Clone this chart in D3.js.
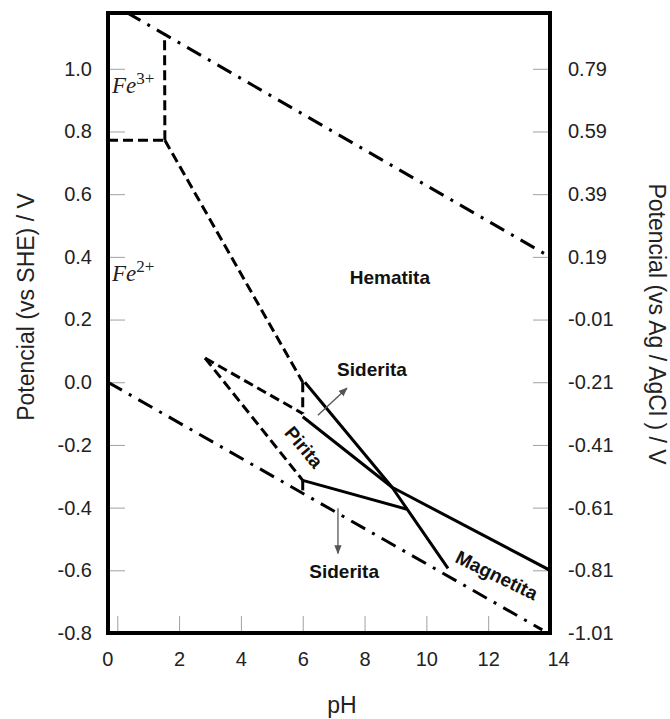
<!DOCTYPE html>
<html>
<head>
<meta charset="utf-8">
<script src="https://cdn.jsdelivr.net/npm/d3@7"></script>
<style>
  body { margin: 0; background: #fff; }
  svg { display: block; font-family: "Liberation Sans", Arial, sans-serif; }
</style>
</head>
<body>
<svg id="chart" width="670" height="719"></svg>
<script>
// axis ticks
const phTicks = [0, 2, 4, 6, 8, 10, 12, 14];
const sheTicks = [-0.8, -0.6, -0.4, -0.2, 0.0, 0.2, 0.4, 0.6, 0.8, 1.0];
const agclTicks = [0.79, 0.59, 0.39, 0.19, -0.01, -0.21, -0.41, -0.61, -0.81, -1.01];
const agclShift = 0.21;

// water stability lines [pH, E(SHE)]
const waterUpper = [[0.3, 1.18], [14, 0.40]];
const waterLower = [[-0.3, 0.0], [13.75, -0.79]];

// dashed boundaries (soluble species)
const fe3Horizontal = [[-0.3, 0.772], [1.54, 0.772]];
const fe3Vertical = [[1.54, 0.772], [1.53, 1.114]];
const fe2Hematita = [[1.54, 0.772], [6.0, 0.0]];
const fe2ShortDrop = [[6.0, 0.0], [6.0, -0.10]];
const piritaTopDash = [[2.84, 0.077], [6.0, -0.10]];
const piritaBottomDash = [[2.84, 0.077], [6.0, -0.313]];
const sideritaDrop = [[6.0, -0.313], [6.0, -0.354]];

// solid boundaries, the two long ones meet at the triple point
const steepBoundary = [[6.07, 0.0], [8.89, -0.335], [10.7, -0.594]];
const hematitaMagnetita = [[6.0, -0.11], [8.89, -0.335], [14, -0.60]];
const piritaSiderita = [[6.0, -0.313], [9.37, -0.405]];

// region labels [text, pH, E, rotation]
const boldLabels = [
  ["Hematita", 8.82, 0.313, 0],
  ["Siderita", 8.24, 0.019, 0],
  ["Siderita", 7.34, -0.626, 0],
  ["Pirita", 6.04, -0.207, 50],
  ["Magnetita", 12.28, -0.616, 26]
];
const ionLabels = [
  ["Fe", "3+", -0.17, 0.922],
  ["Fe", "2+", -0.17, 0.322]
];

// little arrows pointing at the siderita fields
const arrows = [
  [[6.49, -0.105], [7.43, -0.019]],
  [[7.14, -0.402], [7.14, -0.546]]
];

const plotLeft = 108, plotRight = 550, plotTop = 13, plotBottom = 633;

const x = d3.scaleLinear().domain([-0.3, 14]).range([plotLeft, plotRight]);
const y = d3.scaleLinear().domain([-0.8, 1.178]).range([plotBottom, plotTop]);
const yAg = d3.scaleLinear().domain([-0.8 - agclShift, 1.178 - agclShift]).range([plotBottom, plotTop]);

const svg = d3.select("#chart");
const defs = svg.append("defs");

defs.append("clipPath").attr("id", "plot")
  .append("rect")
  .attr("x", plotLeft).attr("y", plotTop)
  .attr("width", plotRight - plotLeft).attr("height", plotBottom - plotTop);

const marker = defs.append("marker")
  .attr("id", "arrow")
  .attr("viewBox", "0 0 10 10")
  .attr("refX", 9).attr("refY", 5)
  .attr("markerWidth", 7).attr("markerHeight", 7)
  .attr("orient", "auto");
marker.append("path").attr("d", "M0,1 L10,5 L0,9 Z").attr("fill", "#555");

function styleAxis(g) {
  g.select(".domain").remove();
  g.attr("font-family", null).attr("font-size", null);
  g.selectAll(".tick line").attr("stroke", "#a0a0a0").attr("stroke-width", 1);
  g.selectAll(".tick text").attr("fill", "#222").style("font-size", "20px");
}

// left axis (SHE)
svg.append("g")
  .attr("transform", `translate(${plotLeft},0)`)
  .call(d3.axisLeft(y).tickValues(sheTicks).tickFormat(d => d.toFixed(1))
    .tickSizeInner(-17).tickSizeOuter(0).tickPadding(16))
  .call(styleAxis);

// right axis (Ag/AgCl)
svg.append("g")
  .attr("transform", `translate(${plotRight},0)`)
  .call(d3.axisRight(yAg).tickValues(agclTicks).tickFormat(d => d.toFixed(2))
    .tickSizeInner(-17).tickSizeOuter(0).tickPadding(18))
  .call(styleAxis);

// bottom axis (pH)
svg.append("g")
  .attr("transform", `translate(0,${plotBottom})`)
  .call(d3.axisBottom(x).tickValues(phTicks)
    .tickSizeInner(-17).tickSizeOuter(0).tickPadding(19))
  .call(styleAxis)
  .selectAll(".tick text")
  .attr("dx", d => d === 0 ? -10 : d === 14 ? 8 : 0);

const line = d3.line().x(d => x(d[0])).y(d => y(d[1]));
const plot = svg.append("g").attr("clip-path", "url(#plot)");

function draw(data, dash) {
  plot.append("path")
    .datum(data)
    .attr("d", line)
    .attr("fill", "none")
    .attr("stroke", "#000")
    .attr("stroke-width", 3)
    .attr("stroke-linejoin", "round")
    .attr("stroke-dasharray", dash);
}

draw(waterUpper, "16,8,3,8");
draw(waterLower, "16,8,3,8");

[fe3Horizontal, fe3Vertical, fe2Hematita, fe2ShortDrop,
 piritaTopDash, piritaBottomDash, sideritaDrop].forEach(d => draw(d, "10,5"));

[steepBoundary, hematitaMagnetita, piritaSiderita].forEach(d => draw(d, null));

arrows.forEach(a => {
  svg.append("path")
    .datum(a)
    .attr("d", line)
    .attr("stroke", "#555")
    .attr("stroke-width", 1.3)
    .attr("marker-end", "url(#arrow)");
});

boldLabels.forEach(([t, ph, e, rot]) => {
  svg.append("text")
    .attr("transform", `translate(${x(ph)},${y(e)}) rotate(${rot})`)
    .attr("text-anchor", "middle")
    .attr("dy", rot ? "0.35em" : 0)
    .style("font-size", "19px")
    .style("font-weight", "bold")
    .attr("fill", "#111")
    .text(t);
});

ionLabels.forEach(([base, sup, ph, e]) => {
  const t = svg.append("text")
    .attr("x", x(ph)).attr("y", y(e))
    .style("font-family", "'Liberation Serif', 'DejaVu Serif', serif")
    .style("font-size", "23px")
    .attr("fill", "#222");
  t.append("tspan").style("font-style", "italic").text(base);
  t.append("tspan").attr("dy", -9).style("font-size", "17px").text(sup);
});

// frame
svg.append("rect")
  .attr("x", plotLeft).attr("y", plotTop)
  .attr("width", plotRight - plotLeft).attr("height", plotBottom - plotTop)
  .attr("fill", "none")
  .attr("stroke", "#000")
  .attr("stroke-width", 4);

// axis titles
svg.append("text")
  .attr("transform", "translate(26,307) rotate(-90)")
  .attr("text-anchor", "middle")
  .attr("dy", "0.35em")
  .style("font-size", "23px")
  .attr("fill", "#222")
  .text("Potencial (vs SHE) / V");

svg.append("text")
  .attr("transform", "translate(657,324) rotate(90)")
  .attr("text-anchor", "middle")
  .attr("dy", "0.35em")
  .style("font-size", "23px")
  .attr("fill", "#222")
  .text("Potencial (vs Ag / AgCl ) / V");

svg.append("text")
  .attr("x", 342).attr("y", 713)
  .attr("text-anchor", "middle")
  .style("font-size", "23px")
  .attr("fill", "#222")
  .text("pH");
</script>
</body>
</html>
